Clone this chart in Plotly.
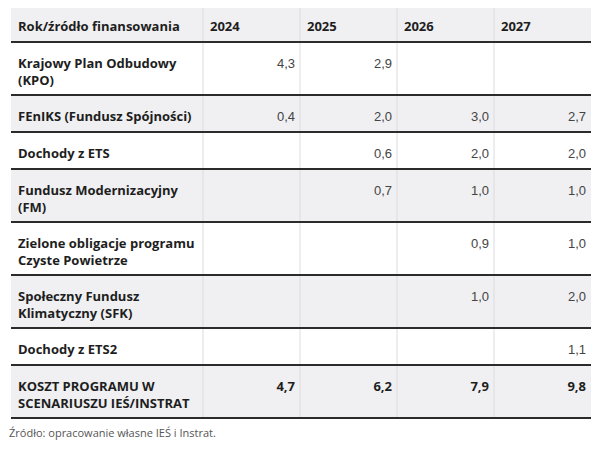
import plotly.graph_objects as go

header_label = "Rok/źródło finansowania"
years = ["2024", "2025", "2026", "2027"]
row_labels = [
    "Krajowy Plan Odbudowy<br>(KPO)",
    "FEnIKS (Fundusz Spójności)",
    "Dochody z ETS",
    "Fundusz Modernizacyjny<br>(FM)",
    "Zielone obligacje programu<br>Czyste Powietrze",
    "Społeczny Fundusz<br>Klimatyczny (SFK)",
    "Dochody z ETS2",
    "KOSZT PROGRAMU W<br>SCENARIUSZU IEŚ/INSTRAT",
]
v2024 = [4.3, 0.4, None, None, None, None, None, 4.7]
v2025 = [2.9, 2.0, 0.6, 0.7, None, None, None, 6.2]
v2026 = [None, 3.0, 2.0, 1.0, 0.9, 1.0, None, 7.9]
v2027 = [None, 2.7, 2.0, 1.0, 1.0, 2.0, 1.1, 9.8]
source_note = "Źródło: opracowanie własne IEŚ i Instrat."

series = [v2024, v2025, v2026, v2027]

# layout geometry (page pixels)
x_left, first_w, col_w = 11, 192, 97
col_edges = [x_left, x_left + first_w] + [x_left + first_w + col_w * (i + 1) for i in range(4)]
top = 5
FS = 13
LINE_H = 1.3 * FS
FIRST_LINE = 22.5  # offset of first text line centre from the row top

def nlines(label):
    return label.count("<br>") + 1

def row_h(label):
    return 21 + 16 * nlines(label)

rows = [header_label] + row_labels
edges = [top]
for r in rows:
    edges.append(edges[-1] + row_h(r))

LABEL_FONT = "Open Sans"
VAL_FONT = "Liberation Sans"
GRAY_BG = "#f0f0f2"
DARK = "#2b2b2b"

shapes = []
for i in range(len(rows)):
    fill = GRAY_BG if i % 2 == 0 else "#ffffff"
    shapes.append(dict(type="rect", xref="x", yref="y", x0=col_edges[0], x1=col_edges[-1],
                       y0=edges[i], y1=edges[i + 1], fillcolor=fill, line_width=0, layer="below"))
for xe in col_edges[1:-1]:
    shapes.append(dict(type="line", xref="x", yref="y", x0=xe, x1=xe, y0=edges[0], y1=edges[-1],
                       line=dict(color="#dcdcdf", width=1), layer="below"))
for ye in edges[1:]:
    shapes.append(dict(type="line", xref="x", yref="y", x0=col_edges[0], x1=col_edges[-1], y0=ye, y1=ye,
                       line=dict(color=DARK, width=2)))

fig = go.Figure()
first_line = [edges[i] + FIRST_LINE for i in range(len(rows))]
label_centre = [first_line[i] + (nlines(rows[i]) - 1) * LINE_H / 2 for i in range(len(rows))]

# header labels
fig.add_trace(go.Scatter(
    x=[col_edges[0] + 7] + [col_edges[j + 1] + 7 for j in range(4)],
    y=[first_line[0]] * 5, mode="text", text=[header_label] + years,
    textposition="middle right",
    textfont=dict(family=LABEL_FONT, size=FS, color="#1e1e1e", weight="bold"),
    hoverinfo="skip", showlegend=False))

# row labels
fig.add_trace(go.Scatter(
    x=[col_edges[0] + 7] * len(row_labels), y=label_centre[1:], mode="text", text=row_labels,
    textposition="middle right",
    textfont=dict(family=LABEL_FONT, size=FS, color="#1e1e1e", weight="bold"),
    hoverinfo="skip", showlegend=False))

# values
def fmt(v):
    return f"{v:.1f}".replace(".", ",")

n = len(row_labels)
for j, vals in enumerate(series):
    xs, ys, ts = [], [], []
    bx, by, bt = [], [], []
    for i, v in enumerate(vals):
        if v is None:
            continue
        if i == n - 1:
            bx.append(col_edges[j + 2] - 5); by.append(first_line[i + 1]); bt.append(fmt(v))
        else:
            xs.append(col_edges[j + 2] - 5); ys.append(first_line[i + 1]); ts.append(fmt(v))
    fig.add_trace(go.Scatter(x=xs, y=ys, text=ts, mode="text", textposition="middle left",
                             textfont=dict(family=VAL_FONT, size=FS, color="#444444"),
                             hoverinfo="skip", showlegend=False))
    fig.add_trace(go.Scatter(x=bx, y=by, text=bt, mode="text", textposition="middle left",
                             textfont=dict(family=LABEL_FONT, size=FS, color="#1e1e1e", weight="bold"),
                             hoverinfo="skip", showlegend=False))

fig.add_trace(go.Scatter(x=[col_edges[0] - 2], y=[edges[-1] + 16], text=[source_note], mode="text",
                         textposition="middle right",
                         textfont=dict(family=LABEL_FONT, size=11, color="#555555"),
                         hoverinfo="skip", showlegend=False))

# page has an 8px body margin: map data coordinates to page pixels
fig.update_layout(
    width=600, height=452, margin=dict(l=0, r=0, t=0, b=0),
    paper_bgcolor="white", plot_bgcolor="white", shapes=shapes,
    xaxis=dict(range=[8, 608], visible=False, fixedrange=True),
    yaxis=dict(range=[460, 8], visible=False, fixedrange=True),
)
fig.write_html("out.html")
